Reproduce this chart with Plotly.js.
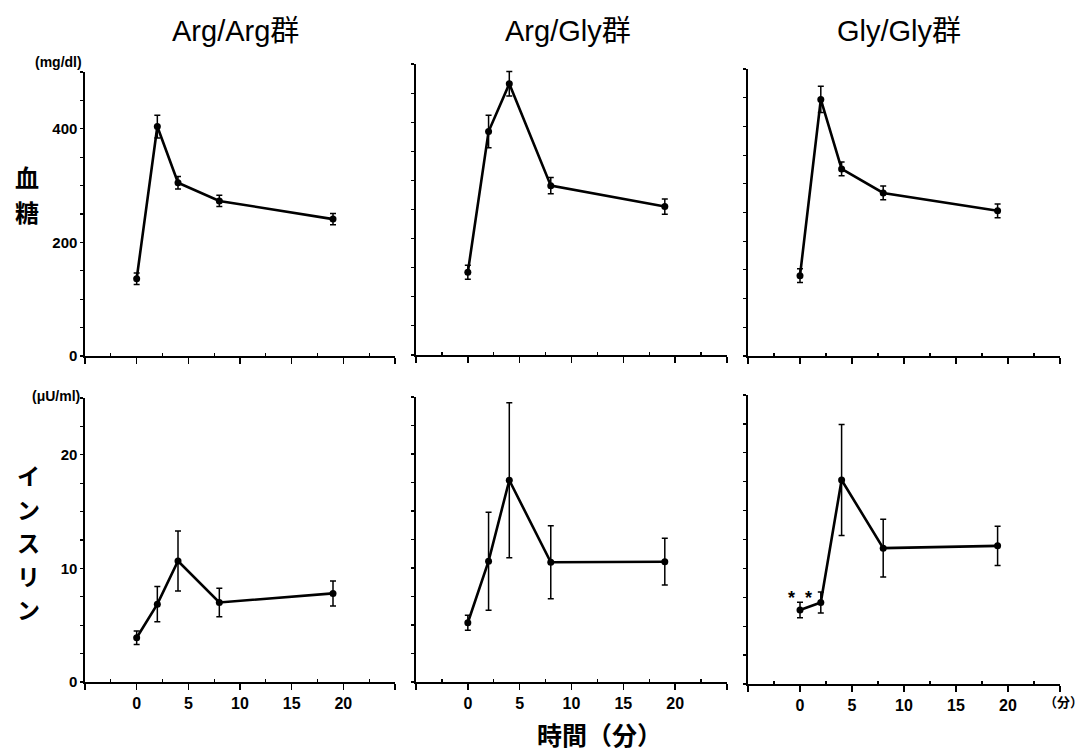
<!DOCTYPE html>
<html>
<head>
<meta charset="utf-8">
<script src="https://cdn.plot.ly/plotly-3.0.1.min.js"></script>
<style>html,body{margin:0;padding:0;background:#fff}#chart{width:1082px;height:756px}</style>
</head>
<body>
<div id="chart"></div>
<script>
// ---- data ----
const groups = ["Arg/Arg群", "Arg/Gly群", "Gly/Gly群"];
const timeMin = [0, 2, 4, 8, 19];

const glucoseArgArg = [136, 404, 305, 273, 241];
const glucoseArgArgErr = [10, 20, 11, 10, 10];
const glucoseArgGly = [142, 384, 466, 291, 255];
const glucoseArgGlyErr = [12, 28, 21, 14, 13];
const glucoseGlyGly = [140, 447, 326, 284, 253];
const glucoseGlyGlyErr = [12, 23, 12, 12, 12];

const insulinArgArg = [3.9, 6.85, 10.65, 7.0, 7.8];
const insulinArgArgErr = [0.6, 1.55, 2.65, 1.25, 1.1];
const insulinArgGly = [5.2, 10.6, 17.7, 10.5, 10.55];
const insulinArgGlyErr = [0.65, 4.3, 6.8, 3.2, 2.05];
const insulinGlyGly = [6.4, 7.05, 17.65, 11.75, 11.95];
const insulinGlyGlyErr = [0.67, 0.9, 4.8, 2.5, 1.7];

const xTickVals = [-5, 0, 5, 10, 15, 20, 25];
const xTickText = ["", "0", "5", "10", "15", "20", ""];
const gluTickVals = [0, 50, 100, 150, 200, 250, 300, 350, 400, 450, 500];
const gluTickText = ["0", "", "", "", "200", "", "", "", "400", "", ""];
const insTickVals = [0, 2.5, 5, 7.5, 10, 12.5, 15, 17.5, 20, 22.5, 25];
const insTickText = ["0", "", "", "", "10", "", "", "", "20", "", ""];

// ---- layout helpers ----
const W = 1082, H = 756;
const dx = (a, b) => [a / W, b / W];
const dy = (t, b) => [1 - b / H, 1 - t / H];
const FONT = "Liberation Sans, Arial, Noto Sans CJK JP, sans-serif";
const JFONT = "Noto Sans CJK JP, sans-serif";

const glu = [[glucoseArgArg, glucoseArgArgErr], [glucoseArgGly, glucoseArgGlyErr], [glucoseGlyGly, glucoseGlyGlyErr]];
const ins = [[insulinArgArg, insulinArgArgErr], [insulinArgGly, insulinArgGlyErr], [insulinGlyGly, insulinGlyGlyErr]];

const xDom = [dx(85, 395), dx(416, 727), dx(748, 1060)];
const yDomTop = [dy(72, 356), dy(64, 355), dy(69, 356)];
const yDomBot = [dy(398, 682), dy(397, 682), dy(395, 684)];

const traces = [];
const layout = {
  width: W, height: H,
  margin: {l: 0, r: 0, t: 0, b: 0},
  paper_bgcolor: "#fff", plot_bgcolor: "rgba(0,0,0,0)",
  showlegend: false,
  font: {family: FONT, color: "#000"},
  annotations: []
};

function traceFor(x, y, err, idx) {
  return {
    type: "scatter", mode: "lines+markers",
    x: x, y: y,
    xaxis: "x" + (idx === 1 ? "" : idx), yaxis: "y" + (idx === 1 ? "" : idx),
    line: {color: "#000", width: 2.6},
    marker: {color: "#000", size: 7},
    error_y: {type: "data", array: err, visible: true, color: "#000", thickness: 1.5, width: 3},
    cliponaxis: false
  };
}

function xAxis(dom, anchor, labels) {
  return {
    domain: dom, anchor: anchor, range: [-5, 25],
    showgrid: false, zeroline: false, showline: true, linecolor: "#000", linewidth: 1.6,
    tickmode: "array", tickvals: xTickVals, ticktext: xTickText,
    ticks: "outside", ticklen: 6, tickwidth: 1.5, tickcolor: "#000",
    minor: {tickmode: "array", tickvals: [-2.5, 2.5, 7.5, 12.5, 17.5, 22.5], ticks: "inside", ticklen: 3, tickwidth: 1.2, tickcolor: "#000"},
    showticklabels: labels,
    tickfont: {family: FONT, size: 16, color: "#000", weight: "bold"},
    fixedrange: true
  };
}
function yAxis(dom, anchor, range, vals, text, labels) {
  return {
    domain: dom, anchor: anchor, range: range,
    showgrid: false, zeroline: false, showline: true, linecolor: "#000", linewidth: 1.6,
    tickmode: "array", tickvals: vals, ticktext: text,
    ticks: "outside", ticklen: 3, tickwidth: 1.2, tickcolor: "#000",
    showticklabels: labels,
    tickfont: {family: FONT, size: 15, color: "#000", weight: "bold"},
    fixedrange: true
  };
}

for (let c = 0; c < 3; c++) {
  const iTop = c + 1, iBot = c + 4;
  traces.push(traceFor(timeMin, glu[c][0], glu[c][1], iTop));
  traces.push(traceFor(timeMin, ins[c][0], ins[c][1], iBot));
  const kx = i => "xaxis" + (i === 1 ? "" : i);
  const ky = i => "yaxis" + (i === 1 ? "" : i);
  const ax = i => "x" + (i === 1 ? "" : i);
  const ay = i => "y" + (i === 1 ? "" : i);
  layout[kx(iTop)] = xAxis(xDom[c], ay(iTop), false);
  layout[ky(iTop)] = yAxis(yDomTop[c], ax(iTop), [0, 500], gluTickVals, gluTickText, c === 0);
  layout[kx(iBot)] = xAxis(xDom[c], ay(iBot), true);
  layout[ky(iBot)] = yAxis(yDomBot[c], ax(iBot), [0, 25], insTickVals, insTickText, c === 0);
}

function ann(text, px, py, size, opts) {
  return Object.assign({
    text: text, x: px / W, y: 1 - py / H, xref: "paper", yref: "paper",
    xanchor: "center", yanchor: "middle", showarrow: false,
    font: {family: FONT, size: size, color: "#000"}
  }, opts || {});
}

// group titles
const titleX = [235, 568, 899];
groups.forEach((g, i) => layout.annotations.push(ann(g, titleX[i], 31, 29)));

// units and axis labels
layout.annotations.push(ann("<b>(mg/dl)</b>", 58, 62, 14));
layout.annotations.push(ann("<b>(μU/ml)</b>", 56, 396, 14));
layout.annotations.push(ann("<b>（分）</b>", 1063, 701, 13, {font: {family: JFONT, size: 13, color: "#000"}}));
layout.annotations.push(ann("<b>時間（分）</b>", 599, 734, 25, {font: {family: JFONT, size: 25, color: "#000"}}));
["血", "糖"].forEach((ch, i) => layout.annotations.push(
  ann("<b>" + ch + "</b>", 27, 176 + i * 35.5, 24, {font: {family: JFONT, size: 24, color: "#000"}})));
const insChars = ["イ", "ン", "ス", "リ", "ン"];
insChars.forEach((ch, i) => layout.annotations.push(
  ann("<b>" + ch + "</b>", 28, 475 + i * 33.6, 23, {font: {family: JFONT, size: 23, color: "#000"}})));

// significance marks on Gly/Gly insulin baseline
layout.annotations.push({
  text: "<b>*  *</b>", x: timeMin[0], y: insulinGlyGly[0] + insulinGlyGlyErr[0] + 0.4,
  xref: "x6", yref: "y6", xanchor: "center", yanchor: "middle", showarrow: false,
  font: {family: FONT, size: 18, color: "#000"}
});

Plotly.newPlot("chart", traces, layout, {staticPlot: true, displayModeBar: false});
</script>
</body>
</html>
